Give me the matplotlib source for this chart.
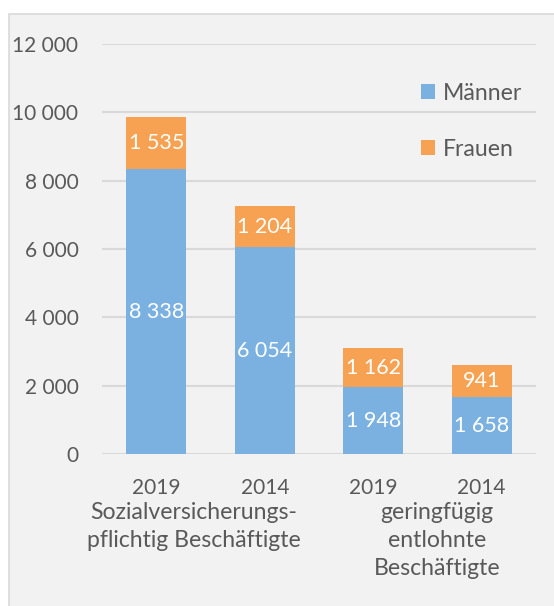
import matplotlib
matplotlib.use("Agg")
import matplotlib.pyplot as plt
from matplotlib.patches import Rectangle

years = ["2019", "2014", "2019", "2014"]
groups = ["Sozialversicherungs-\npflichtig Beschäftigte", "geringfügig\nentlohnte\nBeschäftigte"]
maenner = [8338, 6054, 1948, 1658]
frauen = [1535, 1204, 1162, 941]
yticks = [0, 2000, 4000, 6000, 8000, 10000, 12000]

def fmt(v):
    return f"{v:,}".replace(",", " ")

plt.rcParams['font.family'] = ['Lato', 'DejaVu Sans']
TXT = "#595959"
BLUE = "#7bb1e0"
ORANGE = "#f6a252"
FS = 15
FSW = 16.6

fig = plt.figure(figsize=(5.54, 6.06), dpi=100, facecolor="white")
bg = Rectangle((9/554, -0.01), 1.0, 1 - 14/606 + 0.01, transform=fig.transFigure,
               facecolor="#f2f2f2", edgecolor="#d9d9d9", linewidth=1.2, zorder=-10)
fig.add_artist(bg)

ax = fig.add_axes([102/554, 1 - 454/606, 434/554, 410/606])
ax.set_zorder(1)
ax.set_facecolor("none")
x = list(range(len(years)))
w = 0.553
ax.bar(x, maenner, width=w, color=BLUE, label="Männer", zorder=3)
ax.bar(x, frauen, bottom=maenner, width=w, color=ORANGE, label="Frauen", zorder=3)

for i in x:
    ax.text(i, maenner[i] / 2, fmt(maenner[i]),
            ha="center", va="center", color="white", fontsize=FS + 0.5, zorder=4)
    ax.text(i, maenner[i] + frauen[i] / 2, fmt(frauen[i]),
            ha="center", va="center", color="white", fontsize=FS + 0.5, zorder=4)

ax.set_xlim(-0.5, 3.5)
ax.set_ylim(0, 12000)
ax.set_yticks(yticks)
ax.set_yticklabels([fmt(v) for v in yticks])
ax.set_xticks(x)
ax.set_xticklabels(years)
ax.tick_params(length=0, labelsize=FS, colors=TXT)
ax.tick_params(axis="y", pad=17)
ax.tick_params(axis="x", pad=17)
for s in ax.spines.values():
    s.set_visible(False)
ax.grid(axis="y", color="#d9d9d9", linewidth=1.5, zorder=0)
ax.set_axisbelow(True)

fig.text(194/554, 1 - 502/606, groups[0], ha="center", va="top", fontsize=FSW, color=TXT, linespacing=1.42)
fig.text(437/554, 1 - 502/606, groups[1], ha="center", va="top", fontsize=FSW, color=TXT, linespacing=1.42)

leg = ax.legend(loc="upper left", bbox_to_anchor=((414 - 102)/434, 1 - 32/410), frameon=False,
                fontsize=FSW, labelcolor=TXT, handlelength=0.6, handleheight=0.6,
                handletextpad=0.35, labelspacing=1.5, borderaxespad=0, borderpad=0.3)

fig.savefig("out.png", dpi=100, facecolor="white")
